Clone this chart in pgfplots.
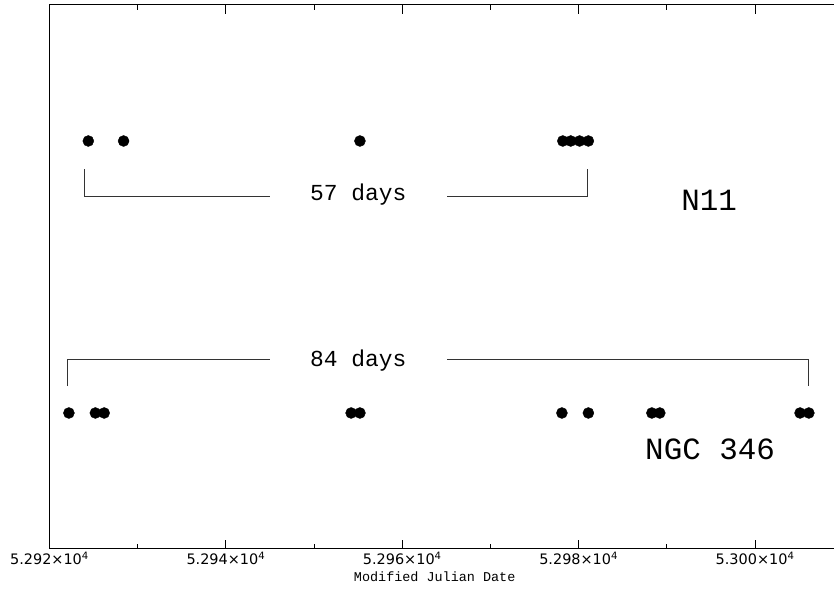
\documentclass[border=0pt]{standalone}
\usepackage{fontspec}
\usepackage{pgfplots}
\pgfplotsset{compat=1.18}
\newfontfamily\tickfont{DejaVu Sans}
\newfontfamily\monofont{Liberation Mono}
\begin{document}
\begin{tikzpicture}
\begin{axis}[
  scale only axis, width=784.5bp, height=544bp,
  xmin=52920, xmax=53008.95, ymin=0, ymax=1,
  scaled x ticks=false,
  axis x line=box, axis y line=left,
  x axis line style={-}, y axis line style={-},
  axis line style={line width=1bp, black},
  xtick={52920,52940,52960,52980,53000},
  xticklabels={5.292×10\textsuperscript{4},5.294×10\textsuperscript{4},5.296×10\textsuperscript{4},5.298×10\textsuperscript{4},5.300×10\textsuperscript{4}},
  minor x tick num=1,
  ytick=\empty,
  tick align=inside,
  major tick length=9bp, minor tick length=5bp,
  tick style={black, line width=0.8bp},
  xticklabel style={font=\tickfont\fontsize{14.5}{15}\selectfont, inner sep=1bp, yshift=-2bp},
  xlabel={Modified Julian Date},
  xlabel style={font=\monofont\fontsize{13.5}{14}\selectfont, at={(axis description cs:0.491,0)}, anchor=base, yshift=-33bp, inner sep=0bp},
  clip=false,
]
% N11 observations
\addplot[only marks, mark=*, mark size=5.5bp, black, mark options={fill=black}] coordinates {
 (52924.4,0.75) (52928.4,0.75) (52955.2,0.75) (52978.2,0.75) (52979.1,0.75) (52980.1,0.75) (52981.1,0.75)
};
% NGC 346 observations
\addplot[only marks, mark=*, mark size=5.5bp, black, mark options={fill=black}] coordinates {
 (52922.2,0.25) (52925.2,0.25) (52926.2,0.25) (52954.2,0.25) (52955.2,0.25) (52978.1,0.25) (52981.1,0.25) (52988.3,0.25) (52989.2,0.25) (53005.1,0.25) (53006.1,0.25)
};
% brackets
\addplot[black!80, line width=0.8bp] coordinates {(52924.0,0.6985) (52924.0,0.649) (52945.0,0.649)};
\addplot[black!80, line width=0.8bp] coordinates {(52965.1,0.649) (52981.0,0.649) (52981.0,0.6985)};
\addplot[black!80, line width=0.8bp] coordinates {(52922.0,0.2996) (52922.0,0.348) (52945.0,0.348)};
\addplot[black!80, line width=0.8bp] coordinates {(52965.1,0.348) (53006.0,0.348) (53006.0,0.2996)};
\node[font=\monofont\fontsize{23}{24}\selectfont, anchor=base, inner sep=0pt] at (axis cs:52955.0,0.640) {57 days};
\node[font=\monofont\fontsize{23}{24}\selectfont, anchor=base, inner sep=0pt] at (axis cs:52955.0,0.336) {84 days};
\node[font=\monofont\fontsize{31}{32}\selectfont, anchor=base, inner sep=0pt] at (axis cs:52994.8,0.623) {N11};
\node[font=\monofont\fontsize{31}{32}\selectfont, anchor=base, inner sep=0pt] at (axis cs:52994.9,0.1636) {NGC 346};
\coordinate (BL) at (rel axis cs:0,0);
\coordinate (TR) at (rel axis cs:1,1);
\end{axis}
\pgfresetboundingbox
\path[use as bounding box] ([xshift=-49.5bp,yshift=-42bp]BL) rectangle ([yshift=5bp]TR);
\end{tikzpicture}
\end{document}
